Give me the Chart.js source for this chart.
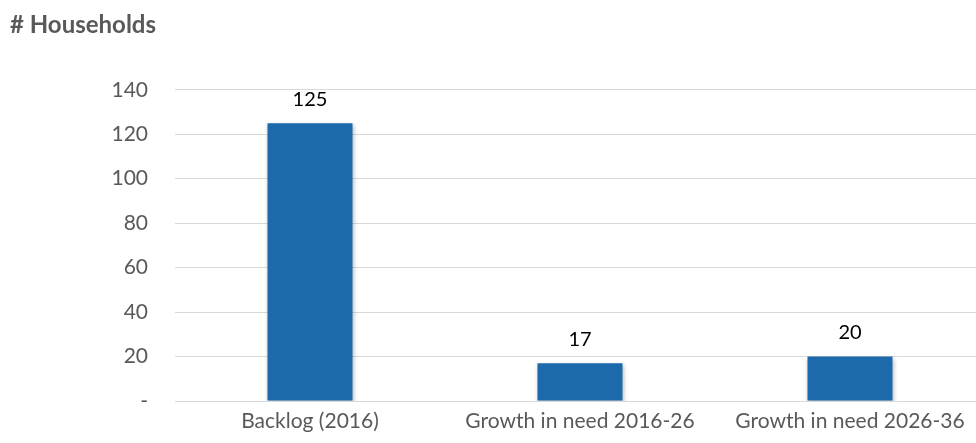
<!DOCTYPE html>
<html>
<head>
<meta charset="utf-8">
<script src="https://cdn.jsdelivr.net/npm/chart.js@4"></script>
<style>
  html, body { margin: 0; padding: 0; overflow: hidden; background: #fff; }
  #wrap { width: 990px; height: 443px; }
</style>
</head>
<body>
<div id="wrap"><canvas id="myChart"></canvas></div>
<script>
const categories = ['Backlog (2016)', 'Growth in need 2016-26', 'Growth in need 2026-36'];
const households = [125, 17, 20];
const yTicks = [0, 20, 40, 60, 80, 100, 120, 140];

const font = "Lato, 'Open Sans', sans-serif";
const ctx = document.getElementById('myChart');

// draws the value above each bar
const valueLabels = {
    id: 'valueLabels',
    afterDatasetsDraw(chart) {
        const c = chart.ctx;
        const meta = chart.getDatasetMeta(0);
        c.save();
        c.font = '20px ' + font;
        c.fillStyle = '#000000';
        c.textAlign = 'center';
        c.textBaseline = 'middle';
        meta.data.forEach(function(bar, i) {
            c.fillText(households[i], bar.x, bar.y - 24);
        });
        c.restore();
    }
};

const barShadow = {
    id: 'barShadow',
    beforeDatasetsDraw(chart) {
        const c = chart.ctx;
        c.save();
        c.shadowColor = 'rgba(0,0,0,0.25)';
        c.shadowBlur = 4;
        c.shadowOffsetX = 1;
        c.shadowOffsetY = 2;
    },
    afterDatasetsDraw(chart) {
        chart.ctx.restore();
    }
};

const myChart = new Chart(ctx, {
    type: 'bar',
    data: {
        labels: categories,
        datasets: [{
            label: '# Households',
            data: households,
            backgroundColor: '#1c6aab',
            borderWidth: 0,
            barPercentage: 0.315,
            categoryPercentage: 1
        }]
    },
    plugins: [barShadow, valueLabels],
    options: {
        responsive: true,
        maintainAspectRatio: false,
        animation: false,
        layout: { padding: { left: 10, right: 5, top: 0, bottom: 0 } },
        plugins: {
            legend: { display: false },
            tooltip: { enabled: false },
            title: {
                display: true,
                text: '# Households',
                align: 'start',
                color: '#595959',
                font: { family: font, size: 24, weight: 'bold', lineHeight: 1.2 },
                padding: { top: 11, bottom: 50 }
            }
        },
        scales: {
            x: {
                grid: { display: false, drawTicks: false },
                border: { display: false },
                ticks: {
                    color: '#595959',
                    font: { family: font, size: 21 },
                    padding: 8,
                    maxRotation: 0,
                    autoSkip: false
                },
                afterFit: function(scale) { scale.height = 42; }
            },
            y: {
                min: 0,
                max: 140,
                afterBuildTicks: function(scale) {
                    scale.ticks = yTicks.map(function(v) { return { value: v }; });
                },
                grid: { color: '#d9d9d9', lineWidth: 1, drawTicks: false },
                border: { display: false },
                ticks: {
                    color: '#595959',
                    font: { family: font, size: 21 },
                    padding: 27,
                    callback: function(v) { return v === 0 ? '-' : v; }
                },
                afterFit: function(scale) { scale.width = 165; }
            }
        }
    }
});
</script>
</body>
</html>
